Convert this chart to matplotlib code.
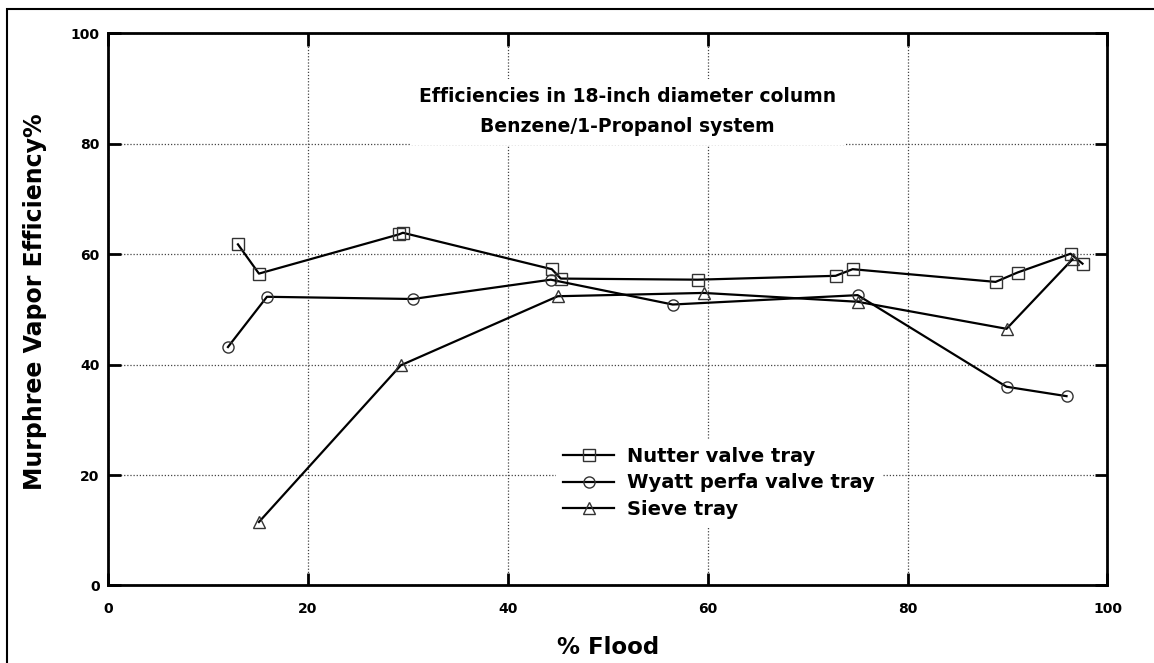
import matplotlib
matplotlib.use("Agg")
import matplotlib.pyplot as plt
from matplotlib.patches import Rectangle

# data (% flood, efficiency %)
nutter_x = [13.0, 15.1, 29.1, 29.5, 44.4, 45.3, 59.0, 72.8, 74.5, 88.8, 91.0, 96.3, 97.5]
nutter_y = [61.8, 56.5, 63.6, 63.9, 57.3, 55.6, 55.4, 56.1, 57.3, 55.0, 56.7, 60.1, 58.3]

wyatt_x = [12.0, 15.9, 30.5, 44.3, 56.5, 75.0, 89.9, 95.9]
wyatt_y = [43.2, 52.3, 51.9, 55.4, 50.9, 52.6, 36.0, 34.3]

sieve_x = [15.1, 29.3, 45.0, 59.6, 75.0, 89.9, 96.5]
sieve_y = [11.5, 39.9, 52.4, 53.0, 51.4, 46.5, 59.1]

series_labels = ["Nutter valve tray", "Wyatt perfa valve tray", "Sieve tray"]
xticks = [0, 20, 40, 60, 80, 100]
yticks = [0, 20, 40, 60, 80, 100]

plt.rcParams['font.family'] = 'DejaVu Sans'
plt.rcParams['font.weight'] = 'bold'

fig = plt.figure(figsize=(11.54, 6.63), dpi=100)
ax = fig.add_axes([0.0936, 0.1169, 0.8661, 0.8326])

# outer frame of the figure
fig.patches.append(Rectangle((7 / 1154, -0.05), 1.2, (663 - 9) / 663 + 0.05,
                             transform=fig.transFigure, fill=False,
                             edgecolor='black', linewidth=1.5))

mk = dict(color='black', linewidth=1.6, markersize=8, markerfacecolor='none',
          markeredgecolor='#333333', markeredgewidth=1.0)
ax.plot(nutter_x, nutter_y, marker='s', label=series_labels[0], **mk)
ax.plot(wyatt_x, wyatt_y, marker='o', label=series_labels[1], **mk)
ax.plot(sieve_x, sieve_y, marker='^', label=series_labels[2], **mk)

ax.set_xlim(0, 100)
ax.set_ylim(0, 100)
ax.set_xticks(xticks)
ax.set_yticks(yticks)
ax.grid(True, linestyle=(0, (1, 1.5)), color='#444444', linewidth=0.9)
ax.tick_params(direction='in', length=9, width=2, top=True, right=True,
               labeltop=False, labelright=False, labelsize=10)
ax.tick_params(axis='x', pad=12)
ax.tick_params(axis='y', pad=6)
for lab in ax.get_xticklabels() + ax.get_yticklabels():
    lab.set_fontweight('bold')
for sp in ax.spines.values():
    sp.set_linewidth(2)

ax.set_xlabel("% Flood", fontsize=16.5, fontweight='bold', labelpad=14)
ax.set_ylabel("Murphree Vapor Efficiency%", fontsize=17, fontweight='bold')
ax.yaxis.set_label_coords(-0.061, 0.515)

ax.text(52, 85.8, "Efficiencies in 18-inch diameter column\nBenzene/1-Propanol system",
        ha='center', va='center', fontsize=13.5, fontweight='bold', linespacing=1.75,
        bbox=dict(facecolor='white', edgecolor='none', pad=6))

leg = ax.legend(loc='center left', bbox_to_anchor=(0.438, 0.186), frameon=True,
                handlelength=2.6, handletextpad=0.7, labelspacing=0.4,
                prop={'weight': 'bold', 'size': 14})
leg.get_frame().set_edgecolor('none')
leg.get_frame().set_facecolor('white')
leg.get_frame().set_alpha(1)

fig.savefig("out.png", dpi=100)
